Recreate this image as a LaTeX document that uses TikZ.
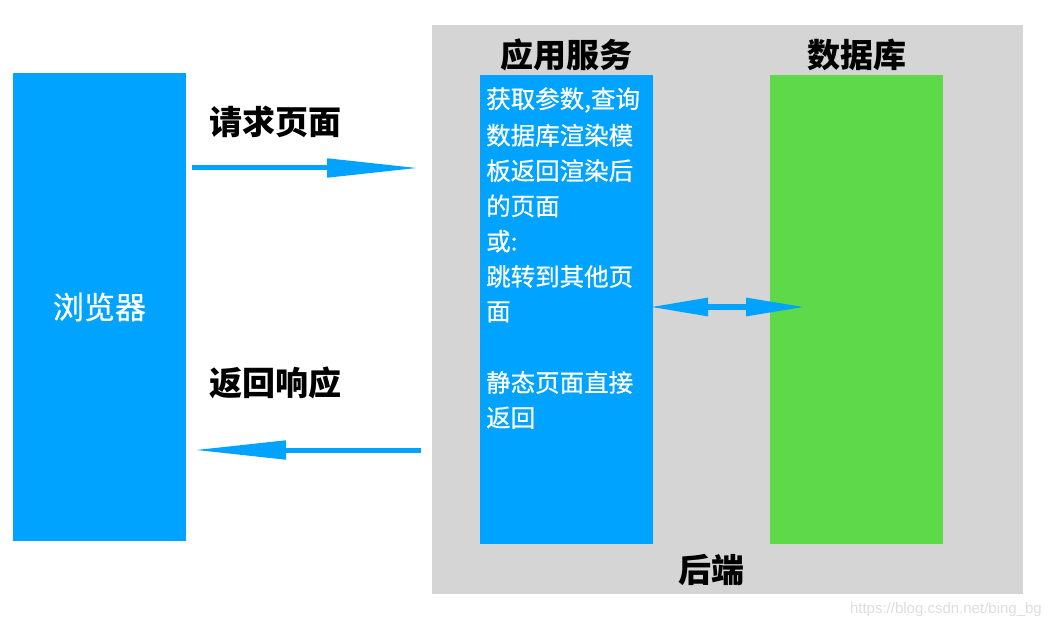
\documentclass[tikz,border=0pt]{standalone}
\usepackage{fontspec}
\newfontfamily\cjk{Noto Sans CJK SC}
\newfontfamily\cjkm[FakeBold=0.6]{Noto Sans CJK SC}
\newfontfamily\wmfont{Liberation Sans}
\usetikzlibrary{arrows.meta}
\definecolor{bblue}{RGB}{0,163,255}
\definecolor{dbgreen}{RGB}{93,217,74}
\definecolor{bggray}{RGB}{213,213,213}
\definecolor{wmgray}{RGB}{222,222,222}
\tikzset{
  block/.style={fill=#1, draw=none, inner sep=0pt, anchor=north west},
  title/.style={font=\cjk\fontsize{33}{36}\selectfont\bfseries, text=black, inner sep=0pt},
  apptext/.style={font=\cjkm\fontsize{24.5}{28}\selectfont, text=white, inner sep=0pt, anchor=west},
  bigarrow/.style={draw=bblue, line width=5pt, -{Triangle[length=92pt,width=18pt]}},
  dblarrow/.style={draw=bblue, line width=6pt, {Triangle[length=59pt,width=17pt]}-{Triangle[length=60pt,width=17pt]}}
}
\begin{document}
\begin{tikzpicture}[x=1pt,y=-1pt]
\useasboundingbox (0,0) rectangle (1050,628);
\fill[white] (0,0) rectangle (1050,628);
% backend background
\node[block=bggray, minimum width=591pt, minimum height=569pt] (backend) at (432,25) {};
% browser
\node[block=bblue, minimum width=173pt, minimum height=468pt] (browser) at (13,73) {};
\node[font=\cjkm\fontsize{31}{34}\selectfont, text=white, inner sep=0pt] (browsertxt) at (99.5,307) {浏览器};
% app service
\node[block=bblue, minimum width=173pt, minimum height=469pt] (app) at (480,75) {};
\node[title] (apptitle) at (566,55) {应用服务};
% database
\node[block=dbgreen, minimum width=173pt, minimum height=469pt] (db) at (770,75) {};
\node[title] (dbtitle) at (857,55) {数据库};
% backend label
\node[title] (betitle) at (711,570) {后端};
% app text lines
\node[apptext] (l1) at (486,100) {获取参数,查询};
\node[apptext] (l2) at (486,135.3) {数据库渲染模};
\node[apptext] (l3) at (486,170.6) {板返回渲染后};
\node[apptext] (l4) at (486,205.9) {的页面};
\node[apptext] (l5) at (486,241.2) {或:};
\node[apptext] (l6) at (486,276.5) {跳转到其他页};
\node[apptext] (l7) at (486,311.8) {面};
\node[apptext] (l8) at (486,382.4) {静态页面直接};
\node[apptext] (l9) at (486,417.7) {返回};
% labels
\node[title, anchor=west] (req) at (209,122) {请求页面};
\node[title, anchor=west] (resp) at (209,383) {返回响应};
% arrows
\coordinate (reqs) at (192,168);
\coordinate (reqe) at (419,168);
\draw[bigarrow] (reqs) -- (reqe);
\coordinate (resps) at (421,450);
\coordinate (respe) at (194,450);
\draw[bigarrow] (resps) -- (respe);
\coordinate (dbl) at (649,307);
\coordinate (dbr) at (806,307);
\draw[dblarrow] (dbl) -- (dbr);
% watermark
\node[font=\wmfont\fontsize{15}{18}\selectfont, text=wmgray, inner sep=0pt, anchor=east] (wm) at (1042,610) {https://blog.csdn.net/bing\_bg};
\end{tikzpicture}
\end{document}
